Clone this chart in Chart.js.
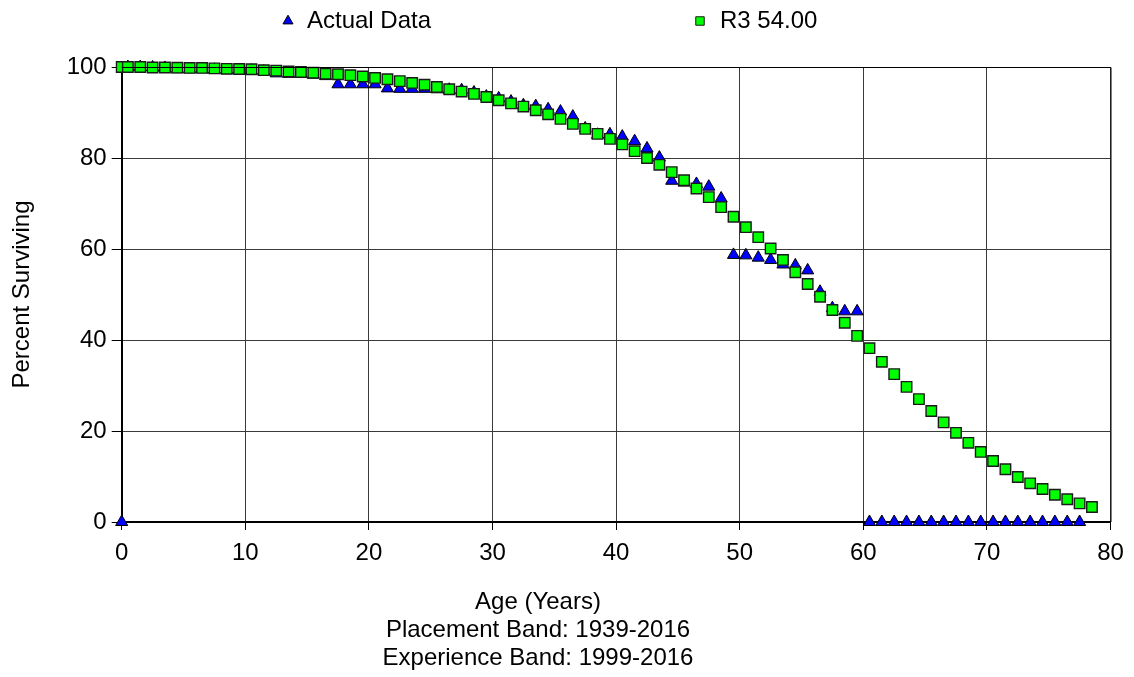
<!DOCTYPE html>
<html>
<head>
<meta charset="utf-8">
<title>Percent Surviving by Age</title>
<script src="https://cdn.jsdelivr.net/npm/chart.js@4/dist/chart.umd.min.js"></script>
<style>
  html, body { margin: 0; padding: 0; background: #fff; }
  #wrap { width: 1134px; height: 677px; }
</style>
</head>
<body>
<div id="wrap"><canvas id="chart" width="1134" height="677"></canvas></div>
<script>
// Ages (years) at which points are plotted
const ages = [0, 0.5, 1.5, 2.5, 3.5, 4.5, 5.5, 6.5, 7.5, 8.5, 9.5,
  10.5, 11.5, 12.5, 13.5, 14.5, 15.5, 16.5, 17.5, 18.5, 19.5,
  20.5, 21.5, 22.5, 23.5, 24.5, 25.5, 26.5, 27.5, 28.5, 29.5,
  30.5, 31.5, 32.5, 33.5, 34.5, 35.5, 36.5, 37.5, 38.5, 39.5,
  40.5, 41.5, 42.5, 43.5, 44.5, 45.5, 46.5, 47.5, 48.5, 49.5,
  50.5, 51.5, 52.5, 53.5, 54.5, 55.5, 56.5, 57.5, 58.5, 59.5,
  60.5, 61.5, 62.5, 63.5, 64.5, 65.5, 66.5, 67.5, 68.5, 69.5,
  70.5, 71.5, 72.5, 73.5, 74.5, 75.5, 76.5, 77.5, 78.5];

// Observed percent surviving (ages 0 .. 77.5)
const actualPct = [0, 100, 100, 99.9, 99.8, 99.5, 99.5, 99.5, 99.4, 99.3, 99.3,
  99.2, 99.0, 98.6, 98.5, 98.5, 98.3, 98.0, 96.2, 96.2, 96.2,
  96.2, 95.3, 95.2, 95.2, 95.2, 95.1, 95.0, 94.9, 94.4, 93.5,
  93.1, 92.4, 91.6, 91.4, 90.7, 90.2, 89.1, 86.5, 85.1, 85.2,
  84.7, 83.7, 82.1, 80.1, 75.0, 74.6, 74.3, 73.7, 71.1, 58.7,
  58.6, 58.1, 57.6, 56.6, 56.4, 55.3, 50.6, 47.0, 46.3, 46.3,
  0, 0, 0, 0, 0, 0, 0, 0, 0, 0,
  0, 0, 0, 0, 0, 0, 0, 0];

// Fitted Iowa R3 curve, 54.00 year average life (ages 0 .. 78.5)
const curvePct = [100, 100, 100, 99.9, 99.9, 99.85, 99.8, 99.8, 99.7, 99.6, 99.55,
  99.5, 99.3, 99.2, 99.0, 98.9, 98.75, 98.5, 98.4, 98.2, 97.9,
  97.6, 97.3, 96.9, 96.5, 96.1, 95.6, 95.1, 94.6, 94.1, 93.4,
  92.7, 92.0, 91.3, 90.5, 89.6, 88.6, 87.5, 86.4, 85.3, 84.2,
  83.0, 81.5, 80.0, 78.5, 76.9, 75.1, 73.3, 71.4, 69.2, 67.1,
  64.8, 62.6, 60.1, 57.6, 54.9, 52.3, 49.5, 46.6, 43.8, 40.9,
  38.2, 35.2, 32.5, 29.7, 27.0, 24.4, 21.9, 19.6, 17.4, 15.4,
  13.4, 11.6, 9.9, 8.5, 7.25, 6.0, 5.0, 4.1, 3.3];

const seriesNames = ['Actual Data', 'R3 54.00'];
const xTicks = [0, 10, 20, 30, 40, 50, 60, 70, 80];
const yTicks = [0, 20, 40, 60, 80, 100];
const xTitleLines = ['Age (Years)', 'Placement Band: 1939-2016', 'Experience Band: 1999-2016'];
const yTitle = 'Percent Surviving';

const FONT = '"Liberation Sans", Arial, Helvetica, sans-serif';
const FONT_SIZE = 24;

const toPoints = (vals) => vals.map((v, i) => ({ x: ages[i], y: v }));

// Legend row, plot frame and the multi-line x caption, drawn on top of the chart
const captions = {
  id: 'captions',
  afterDraw(chart) {
    const ctx = chart.ctx;
    const a = chart.chartArea;
    ctx.save();

    // plot frame
    ctx.strokeStyle = '#000';
    ctx.lineWidth = 1;
    ctx.beginPath();
    ctx.moveTo(a.left, a.top + 0.5);
    ctx.lineTo(a.right + 0.5, a.top + 0.5);
    ctx.lineTo(a.right + 0.5, a.bottom);
    ctx.stroke();

    // legend
    const items = [
      { ds: chart.data.datasets[0], mx: 288, tx: 307, r: 5.8 },
      { ds: chart.data.datasets[1], mx: 700, tx: 720, r: 6.0 }
    ];
    const ly = 21;
    ctx.font = FONT_SIZE + 'px ' + FONT;
    ctx.textBaseline = 'middle';
    ctx.textAlign = 'left';
    items.forEach(it => {
      ctx.fillStyle = it.ds.pointBackgroundColor;
      ctx.strokeStyle = it.ds.pointBorderColor;
      ctx.lineWidth = 1;
      Chart.helpers.drawPoint(ctx, { pointStyle: it.ds.pointStyle, radius: it.r, borderWidth: 1, rotation: 0 }, it.mx, ly);
      ctx.fillStyle = '#000';
      ctx.fillText(it.ds.label, it.tx, ly);
    });

    // x caption lines
    ctx.textAlign = 'center';
    ctx.textBaseline = 'alphabetic';
    const cx = 538;
    const baselines = [609, 637, 665];
    xTitleLines.forEach((t, i) => ctx.fillText(t, cx, baselines[i]));

    ctx.restore();
  }
};

new Chart(document.getElementById('chart'), {
  type: 'scatter',
  data: {
    datasets: [
      {
        label: seriesNames[0],
        data: toPoints(actualPct),
        pointStyle: 'triangle',
        pointRadius: 7,
        pointBackgroundColor: '#0000ff',
        pointBorderColor: '#000',
        pointBorderWidth: 1,
        clip: false,
        order: 2
      },
      {
        label: seriesNames[1],
        data: toPoints(curvePct),
        pointStyle: 'rect',
        pointRadius: 7.4,
        pointBackgroundColor: '#00ff00',
        pointBorderColor: '#1a1a1a',
        pointBorderWidth: 1.4,
        clip: false,
        order: 1
      }
    ]
  },
  options: {
    responsive: false,
    animation: false,
    devicePixelRatio: 1,
    layout: { padding: { top: 67, right: 23.5, bottom: 0, left: 0 } },
    plugins: {
      legend: { display: false },
      tooltip: { enabled: false }
    },
    scales: {
      x: {
        type: 'linear',
        min: 0,
        max: 80,
        afterBuildTicks: (s) => { s.ticks = xTicks.map(v => ({ value: v })); },
        afterFit: (s) => { s.height = 155; },
        border: { display: true, color: '#000', width: 2 },
        grid: { color: '#3a3a3a', lineWidth: 1, drawTicks: true, tickLength: 8, tickColor: '#000' },
        ticks: { color: '#000', font: { family: FONT, size: FONT_SIZE }, padding: 9, maxRotation: 0 }
      },
      y: {
        type: 'linear',
        min: 0,
        max: 100,
        afterBuildTicks: (s) => { s.ticks = yTicks.map(v => ({ value: v })); },
        afterFit: (s) => { s.width = 121.7; },
        border: { display: true, color: '#000', width: 2 },
        grid: { color: '#3a3a3a', lineWidth: 1, drawTicks: true, tickLength: 10, tickColor: '#000' },
        ticks: { color: '#000', font: { family: FONT, size: FONT_SIZE }, padding: 5 },
        title: {
          display: true,
          text: yTitle,
          color: '#000',
          font: { family: FONT, size: FONT_SIZE },
          padding: { top: 8, bottom: 0 }
        }
      }
    }
  },
  plugins: [captions]
});
</script>
</body>
</html>
